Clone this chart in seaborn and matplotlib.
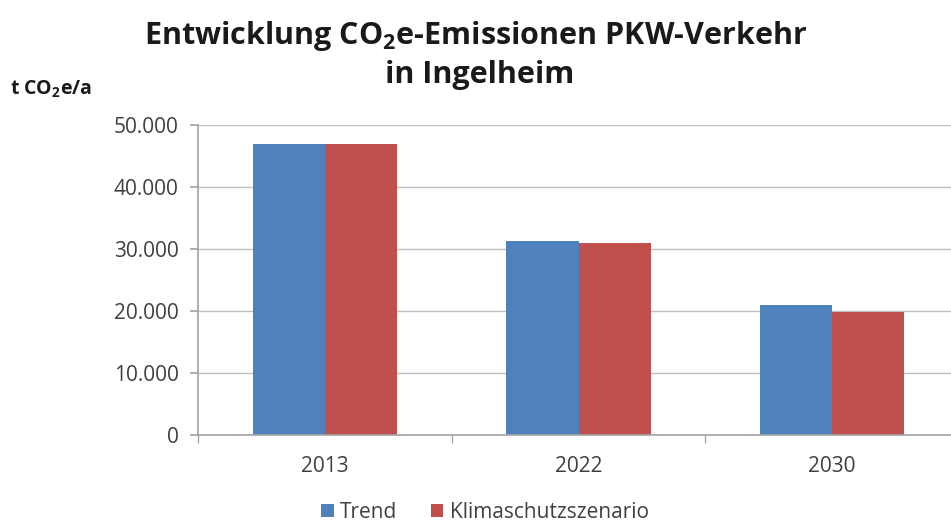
import matplotlib
matplotlib.use("Agg")
import matplotlib.pyplot as plt
import seaborn as sns
import pandas as pd
from matplotlib.ticker import FuncFormatter
from matplotlib.patches import Patch

years = ["2013", "2022", "2030"]
trend = [46900, 31300, 21000]
klima = [46900, 31000, 19900]
series = ["Trend", "Klimaschutzszenario"]
colors = ["#4F81BD", "#C0504D"]
yticks = [0, 10000, 20000, 30000, 40000, 50000]

df = pd.DataFrame({
    "Jahr": years * 2,
    "Wert": trend + klima,
    "Szenario": [series[0]] * 3 + [series[1]] * 3,
})

sns.set_theme(style="white")
plt.rcParams["font.family"] = ["Open Sans", "DejaVu Sans"]
plt.rcParams["mathtext.fontset"] = "custom"
plt.rcParams["mathtext.rm"] = "Open Sans"
plt.rcParams["mathtext.bf"] = "Open Sans:bold"

fig = plt.figure(figsize=(9.51, 5.26), dpi=100)
W, H = 951, 526
ax = fig.add_axes([198 / W, 1 - 435 / H, (959 - 198) / W, (435 - 125) / H])

sns.barplot(data=df, x="Jahr", y="Wert", hue="Szenario", palette=colors,
            width=0.57, ax=ax, saturation=1, legend=False)
for p in ax.patches:
    p.set_edgecolor("none")

ax.set_ylim(0, 50000)
ax.set_xlim(-0.5, 2.5)
ax.set_yticks(yticks)
ax.yaxis.set_major_formatter(FuncFormatter(lambda v, _: f"{int(v):,}".replace(",", ".")))
ax.set_xlabel("")
ax.set_ylabel("")
ax.grid(axis="y", color="#BFBFBF", linewidth=1)
ax.set_axisbelow(True)
for s in ["top", "right"]:
    ax.spines[s].set_visible(False)
ax.spines["left"].set_color("#A6A6A6")
ax.spines["bottom"].set_color("#A6A6A6")
ax.tick_params(axis="y", which="both", left=True, length=6, color="#A6A6A6",
               labelsize=15, labelcolor="#404040", pad=8)
ax.set_xticks([0, 1, 2])
ax.set_xticks([-0.5, 0.5, 1.5, 2.5], minor=True)
ax.tick_params(axis="x", which="major", length=0, labelsize=15, labelcolor="#404040", pad=15)
ax.tick_params(axis="x", which="minor", bottom=True, length=6, color="#A6A6A6")

fig.text(476 / W, 1 - 36 / H, r"Entwicklung CO$_\mathbf{2}$e-Emissionen PKW-Verkehr",
         ha="center", va="center", fontsize=22, fontweight="bold", color="#1a1a1a")
fig.text(480 / W, 1 - 75 / H, "in Ingelheim",
         ha="center", va="center", fontsize=22, fontweight="bold", color="#1a1a1a")
fig.text(10 / W, 1 - 89 / H, r"t CO$_\mathbf{2}$e/a", ha="left", va="center",
         fontsize=14, fontweight="bold", color="#1a1a1a")

handles = [Patch(facecolor=c, edgecolor="none") for c in colors]
fig.legend(handles, series, loc="center", bbox_to_anchor=(485 / W, 1 - 512 / H),
           ncol=2, frameon=False, fontsize=15, handlelength=0.6, handleheight=0.6,
           handletextpad=0.3, columnspacing=1.6, labelcolor="#404040")

fig.savefig("out.png", dpi=100)
